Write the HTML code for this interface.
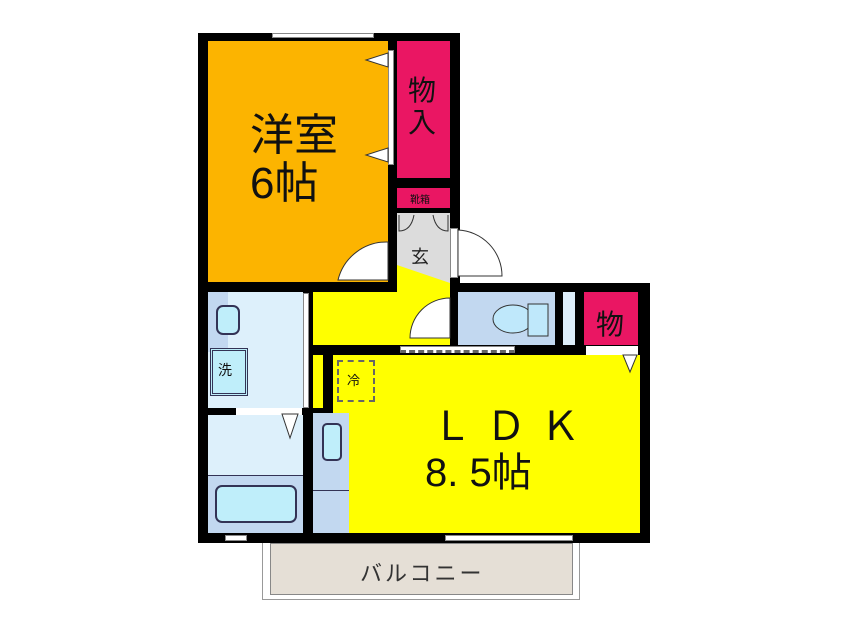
<!DOCTYPE html>
<html><head><meta charset="utf-8"><style>
body{margin:0;background:#fff;width:846px;height:634px;position:relative;overflow:hidden;font-family:"Liberation Sans","Noto Sans CJK JP",sans-serif}
div{position:absolute;box-sizing:border-box}
.t{color:#111;white-space:nowrap}
</style></head><body>
<!-- balcony -->
<div style="left:262px;top:540px;width:318px;height:60px;background:#fff;border:1px solid #999"></div>
<div style="left:270px;top:543px;width:303px;height:52px;background:#e5dfd6;border:1px solid #888"></div>
<div class="t" style="left:360px;top:556px;font-size:22px;color:#333;letter-spacing:3px">バルコニー</div>
<!-- black base -->
<div style="left:198px;top:33px;width:262px;height:260px;background:#000"></div>
<div style="left:198px;top:283px;width:452px;height:260px;background:#000"></div>
<!-- upper window -->
<div style="left:272px;top:33px;width:102px;height:5px;background:#fff;border:1px solid #888"></div>
<!-- yoshitsu -->
<div style="left:208px;top:41px;width:180px;height:241px;background:#fcb400"></div>
<div style="left:388px;top:50px;width:6px;height:115px;background:#fff;border:1px solid #888"></div>
<svg style="position:absolute;left:360px;top:50px" width="30" height="120"><polygon points="28,3 6,10 28,17" fill="#fff" stroke="#333"/><polygon points="28,98 6,105 28,112" fill="#fff" stroke="#333"/></svg>
<svg style="position:absolute;left:330px;top:240px" width="60" height="45"><path d="M58,2 A50,50 0 0 0 8,40 L58,40 Z" fill="#fff" stroke="#333"/></svg>
<div class="t" style="left:250px;top:112px;font-size:44px;line-height:48px">洋室<br>6帖</div>
<!-- closet -->
<div style="left:397px;top:41px;width:53px;height:137px;background:#ea1663"></div>
<div class="t" style="left:408px;top:75px;font-size:28px;line-height:32px">物<br>入</div>
<div style="left:397px;top:188px;width:53px;height:20px;background:#ea1663"></div>
<div class="t" style="left:410px;top:191px;font-size:10px">靴箱</div>
<!-- genkan + hall -->
<svg style="position:absolute;left:313px;top:213px" width="140" height="140">
<polygon points="84,0 137,0 137,132 0,132 0,79 84,79" fill="#ffff00"/>
<polygon points="84,0 137,0 137,70 84,52" fill="#dcdcdc"/>
<path d="M86,2 L86,18 Q98,18 101,2 M135,2 L135,18 Q123,18 120,2" fill="none" stroke="#333"/>
<text x="98" y="50" font-size="18" font-family="Noto Sans CJK JP" fill="#222">玄</text>
<path d="M137,85 A40,40 0 0 0 97,125 L137,125 Z" fill="#fff" stroke="#333"/>
</svg>
<!-- entry door opening -->
<div style="left:450px;top:228px;width:8px;height:50px;background:#fff;border:1px solid #888"></div>
<svg style="position:absolute;left:458px;top:228px" width="50" height="52"><path d="M0,2 A46,46 0 0 1 44,48 L0,48 Z" fill="#fff" stroke="#333"/></svg>
<!-- toilet -->
<div style="left:458px;top:292px;width:97px;height:53px;background:#c2d8f0"></div>
<svg style="position:absolute;left:485px;top:298px" width="70" height="45"><ellipse cx="28" cy="21" rx="20" ry="14" fill="#bfe8fb" stroke="#333"/><rect x="43" y="6" width="20" height="32" fill="#bfe8fb" stroke="#333"/></svg>
<div style="left:563px;top:292px;width:12px;height:53px;background:#ddeefa"></div>
<div style="left:584px;top:292px;width:54px;height:53px;background:#ea1663"></div>
<div class="t" style="left:596px;top:303px;font-size:28px">物</div>
<!-- wash -->
<div style="left:208px;top:292px;width:95px;height:116px;background:#ddf0fb"></div>
<div style="left:208px;top:292px;width:20px;height:60px;background:#c2d8f0"></div>
<div style="left:216px;top:305px;width:24px;height:30px;background:#bfeefa;border:2px solid #335;border-radius:7px"></div>
<div style="left:210px;top:348px;width:38px;height:48px;background:#bfeefa;border:3px double #335"></div>
<div class="t" style="left:218px;top:360px;font-size:14px">洗</div>
<div style="left:303px;top:293px;width:6px;height:115px;background:#fff;border:1px solid #888"></div>
<!-- bath -->
<div style="left:208px;top:415px;width:95px;height:60px;background:#ddf0fb"></div>
<div style="left:236px;top:408px;width:66px;height:7px;background:#fff"></div>
<svg style="position:absolute;left:280px;top:413px" width="20" height="30"><polygon points="2,1 18,1 10,25" fill="#fff" stroke="#333"/></svg>
<div style="left:208px;top:475px;width:95px;height:58px;background:#c2d8f0;border-top:1px solid #335"></div>
<div style="left:215px;top:485px;width:82px;height:38px;background:#bfeefa;border:2px solid #335;border-radius:7px"></div>
<div style="left:225px;top:535px;width:22px;height:6px;background:#fff;border:1px solid #888"></div>
<!-- LDK -->
<div style="left:313px;top:355px;width:10px;height:53px;background:#ffff00"></div>
<div style="left:333px;top:355px;width:307px;height:178px;background:#ffff00"></div>
<div style="left:313px;top:413px;width:36px;height:120px;background:#c2d8f0"></div>
<div style="left:313px;top:490px;width:36px;height:1px;background:#335"></div>
<div style="left:322px;top:423px;width:20px;height:38px;background:#bfeefa;border:2px solid #335;border-radius:5px"></div>
<div style="left:337px;top:360px;width:38px;height:42px;border:2px dashed #666"></div>
<div class="t" style="left:347px;top:370px;font-size:13px">冷</div>
<div style="left:400px;top:346px;width:115px;height:7px;background:#fff;border:1px solid #888;border-bottom:3px dashed #666"></div>
<div style="left:586px;top:346px;width:52px;height:9px;background:#fff"></div>
<svg style="position:absolute;left:622px;top:354px" width="16" height="20"><polygon points="1,1 15,1 8,18" fill="#fff" stroke="#333"/></svg>
<div class="t" style="left:432px;top:394px;font-size:40px;letter-spacing:14px">ＬＤＫ</div>
<div class="t" style="left:425px;top:440px;font-size:40px">8. 5帖</div>
<div style="left:445px;top:535px;width:128px;height:6px;background:#fff;border:1px solid #888"></div>
</body></html>
